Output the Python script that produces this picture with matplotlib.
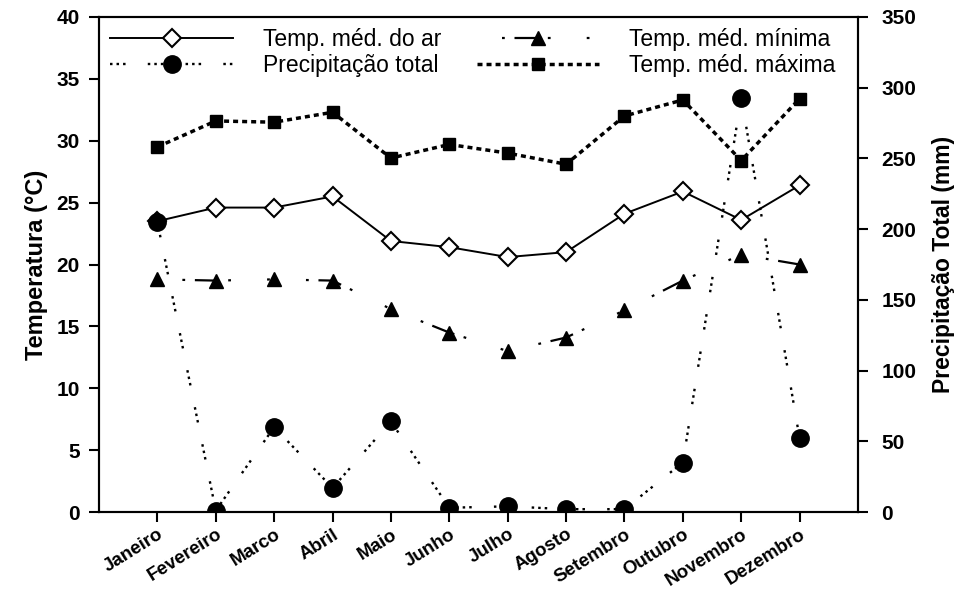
import matplotlib
matplotlib.use('Agg')
import matplotlib.pyplot as plt
from matplotlib.ticker import MultipleLocator

plt.rcParams['font.family'] = ['Liberation Sans', 'DejaVu Sans']
plt.rcParams['lines.scale_dashes'] = False

# ── DATA ──────────────────────────────────────────────────────────────────────
meses = ['Janeiro', 'Fevereiro', 'Marco', 'Abril', 'Maio', 'Junho',
         'Julho', 'Agosto', 'Setembro', 'Outubro', 'Novembro', 'Dezembro']
temp_media = [23.5, 24.6, 24.6, 25.5, 21.9, 21.4, 20.6, 21.0, 24.1, 25.9, 23.6, 26.4]
temp_min = [18.8, 18.7, 18.8, 18.7, 16.4, 14.5, 13.0, 14.1, 16.3, 18.7, 20.8, 20.0]
temp_max = [29.5, 31.6, 31.5, 32.3, 28.6, 29.7, 29.0, 28.1, 32.0, 33.3, 28.4, 33.4]
precip = [205, 1, 60, 17, 64, 3, 4, 2, 2, 35, 293, 52]

x = list(range(1, len(meses) + 1))

fig = plt.figure(figsize=(9.63, 5.89), dpi=100)
ax = fig.add_axes([99/963, 1 - 512/589, (858-99)/963, (512-17)/589])
ax2 = ax.twinx()

l_media, = ax.plot(x, temp_media, color='black', lw=1.4, marker='D', ms=9,
                   mfc='white', mec='black', mew=1.5, label='Temp. méd. do ar')
l_min, = ax.plot(x, temp_min, color='black', lw=1.6,
                 linestyle=(62, (17, 7, 2, 26, 2, 26, 2, 7)),
                 marker='^', ms=10, mfc='black', mec='black',
                 label='Temp. méd. mínima')
l_max, = ax.plot(x, temp_max, color='black', lw=2.5,
                 linestyle=(0, (3.6, 2.9)), marker='s', ms=8,
                 mfc='black', mec='black', label='Temp. méd. máxima')
l_prec, = ax2.plot(x, precip, color='black', lw=1.7,
                   linestyle=(0, (1.8, 2.9, 1.8, 2.9, 1.8, 16)),
                   marker='o', ms=12.5, mfc='black', mec='black',
                   label='Precipitação total')

ax.set_xlim(0, 13)
ax.set_ylim(0, 40)
ax2.set_ylim(0, 350)
ax.yaxis.set_major_locator(MultipleLocator(5))
ax2.yaxis.set_major_locator(MultipleLocator(50))

ax.set_xticks(x)
ax.set_xticklabels(meses, rotation=32, ha='right', rotation_mode='anchor',
                   fontsize=13.5, fontweight='bold')
for lab in ax.get_yticklabels():
    lab.set_fontsize(15)
    lab.set_fontweight('bold')
for lab in ax2.get_yticklabels():
    lab.set_fontsize(15)
    lab.set_fontweight('bold')

ax.tick_params(axis='both', direction='out', length=7, width=1.5)
ax2.tick_params(axis='y', direction='out', length=7, width=1.5, pad=10)
ax.tick_params(axis='y', pad=7)
ax.tick_params(axis='x', pad=3)

for sp in ax.spines.values():
    sp.set_linewidth(1.5)
for sp in ax2.spines.values():
    sp.set_linewidth(1.5)

ax.set_ylabel('Temperatura (°C)', fontsize=17, fontweight='bold', labelpad=6)
ax2.set_ylabel('Precipitação Total (mm)', fontsize=16.5, fontweight='bold', labelpad=11)

handles = [l_media, l_prec, l_min, l_max]
ax2.legend(handles=handles, labels=[h.get_label() for h in handles], ncol=2,
           loc='upper left', bbox_to_anchor=(0.0, 1.0), frameon=False,
           fontsize=16.5, handlelength=5.35, handletextpad=1.3, columnspacing=1.55,
           labelspacing=0.1, borderaxespad=0.2, borderpad=0.3)

fig.savefig('out.png', dpi=100)
